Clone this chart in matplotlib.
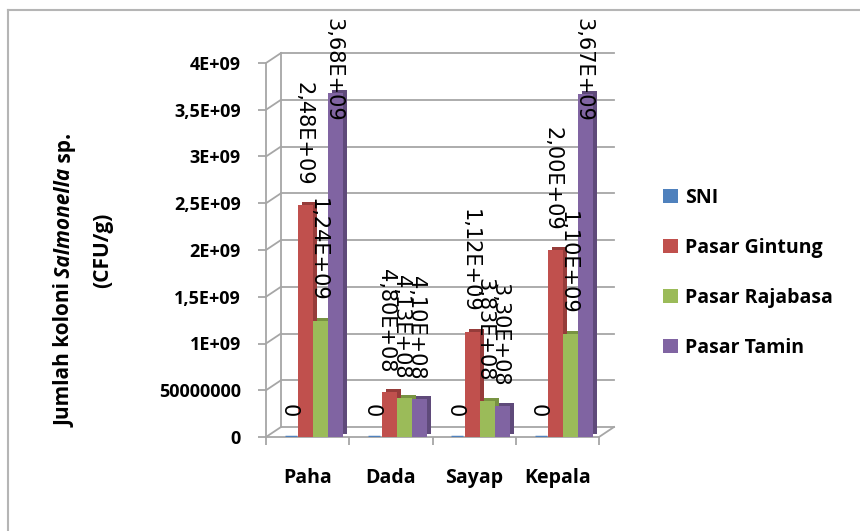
import numpy as np
import matplotlib
matplotlib.use('Agg')
import matplotlib.pyplot as plt
from matplotlib.patches import Patch
from matplotlib.lines import Line2D
from matplotlib.transforms import ScaledTranslation

plt.rcParams['font.family'] = ['Open Sans', 'DejaVu Sans']

# --- data ---
categories = ['Paha', 'Dada', 'Sayap', 'Kepala']
series_names = ['SNI', 'Pasar Gintung', 'Pasar Rajabasa', 'Pasar Tamin']
sni = [0, 0, 0, 0]
gintung = [2.48e9, 4.80e8, 1.12e9, 2.00e9]
rajabasa = [1.24e9, 4.13e8, 3.83e8, 1.10e9]
tamin = [3.68e9, 4.10e8, 3.30e8, 3.67e9]
ytick_values = [0, 5e8, 1e9, 1.5e9, 2e9, 2.5e9, 3e9, 3.5e9, 4e9]
ytick_labels = ['0', '50000000', '1E+09', '1,5E+09', '2E+09', '2,5E+09',
                '3E+09', '3,5E+09', '4E+09']

series = [sni, gintung, rajabasa, tamin]
colors = ['#4F81BD', '#C0504D', '#9BBB59', '#8064A2']
dark = ['#3A6190', '#963C3A', '#789342', '#5F4A7A']
grid_c = '#a6a6a6'


def fmt(v):
    if v == 0:
        return '0'
    return f'{v:.2E}'.replace('.', ',')


W, H = 860, 531
fig = plt.figure(figsize=(W / 100, H / 100), dpi=100)

# chart area border (left + top)
fig.add_artist(Line2D([8 / W, 8 / W], [0, (H - 10) / H], color='#b5b5b5', lw=1.5))
fig.add_artist(Line2D([8 / W, 1], [(H - 10) / H, (H - 10) / H], color='#b5b5b5', lw=1.5))

ax = fig.add_axes([266 / W, (H - 437) / H, (599 - 266) / W, 374 / H])
x0, x1 = -0.5, 3.5
ymax = 4e9
ax.set_xlim(x0, x1)
ax.set_ylim(0, ymax)

# pseudo 3D walls
dx = 15 / 333 * (x1 - x0)
dy = 10 / 374 * ymax
for v in ytick_values:
    ax.plot([x0 + dx, x1 + dx], [v + dy, v + dy], color=grid_c, lw=1.3,
            clip_on=False, zorder=1)
    ax.plot([x0, x0 + dx], [v, v + dy], color=grid_c, lw=1.3, clip_on=False, zorder=1)
ax.plot([x0 + dx, x0 + dx], [dy, ymax + dy], color=grid_c, lw=1.3, clip_on=False, zorder=1)
ax.plot([x1, x1 + dx], [0, dy], color=grid_c, lw=1.3, clip_on=False, zorder=1)

# bars
w = 0.18
shift = 0.07
depth = ax.transData + ScaledTranslation(4 / 100, 3 / 100, fig.dpi_scale_trans)
labels = []
for i, vals in enumerate(series):
    xs = np.arange(len(categories)) + (i - 1.5) * w + shift
    if i == 0:
        ax.bar(xs, vals, w * 0.8, color=colors[i], edgecolor=colors[i], lw=2.5, zorder=3)
    else:
        ax.bar(xs, vals, w, color=dark[i], transform=depth, zorder=2 + i * 0.1)
        ax.bar(xs, vals, w, color=colors[i], zorder=3 + i * 0.1)
    for x, v in zip(xs, vals):
        t = ax.annotate(fmt(v), xy=(x, v), xytext=(-2, 14), textcoords='offset points',
                        rotation=-90, ha='center', va='bottom', fontsize=15,
                        family='DejaVu Sans', zorder=6, annotation_clip=False)
        labels.append(t)

# axes styling
for s in ['top', 'right']:
    ax.spines[s].set_visible(False)
for s in ['left', 'bottom']:
    ax.spines[s].set_color(grid_c)
    ax.spines[s].set_linewidth(1.3)
ax.set_yticks(ytick_values, ytick_labels)
ax.tick_params(axis='y', length=6, width=1.3, color=grid_c, pad=12, labelsize=13)
for lab in ax.get_yticklabels():
    lab.set_fontweight('bold')
ax.set_xticks(np.arange(len(categories)), categories)
ax.set_xticks(np.arange(x0, x1 + 0.5, 1.0), minor=True)
ax.tick_params(axis='x', which='major', length=0, pad=22, labelsize=14)
ax.tick_params(axis='x', which='minor', length=6, width=1.3, color=grid_c)
for lab in ax.get_xticklabels():
    lab.set_fontweight('bold')

# y-axis title (two lines, italic genus name)
t1 = fig.text(65 / W, 104 / H, 'Jumlah koloni', rotation=90, ha='center', va='bottom',
              fontsize=15, fontweight='bold')
t2 = ax.annotate(' Salmonella', xy=(0.5, 1.0), xycoords=t1, rotation=90, ha='center',
                 va='bottom', fontsize=15, fontweight='bold', style='italic')
t3 = ax.annotate(' sp.', xy=(0.5, 1.0), xycoords=t2, rotation=90, ha='center',
                 va='bottom', fontsize=15, fontweight='bold')
fig.text(103 / W, (H - 250) / H, '(CFU/g)', rotation=90, ha='center', va='center',
         fontsize=15, fontweight='bold')

# legend
handles = [Patch(facecolor=c) for c in colors]
fig.legend(handles, series_names, loc='upper left', bbox_to_anchor=(663 / W, (H - 188) / H),
           frameon=False, handlelength=0.75, handleheight=0.75, handletextpad=0.4,
           labelspacing=1.54, borderpad=0, borderaxespad=0,
           prop={'family': 'Open Sans', 'weight': 'bold', 'size': 14})

# keep labels inside the chart area
fig.canvas.draw()
limit = H - 18
for t in labels:
    bb = t.get_window_extent()
    if bb.y1 > limit:
        ex = (bb.y1 - limit) * 72 / 100
        t.xyann = (t.xyann[0], t.xyann[1] - ex)

fig.savefig('out.png', dpi=100)
